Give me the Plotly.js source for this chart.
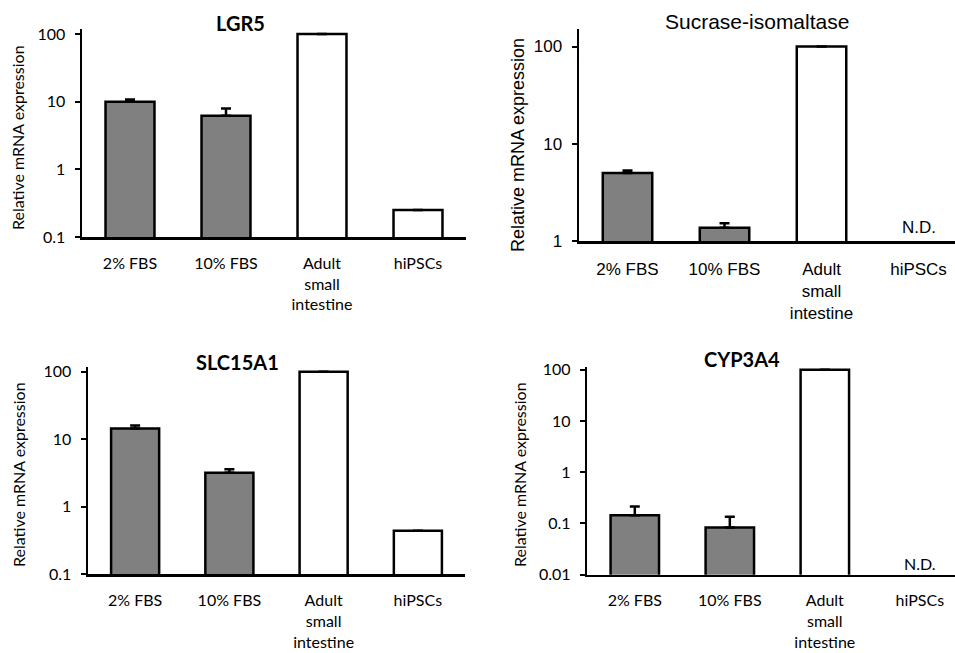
<!DOCTYPE html>
<html>
<head>
<meta charset="utf-8">
<script src="https://cdn.plot.ly/plotly-3.0.1.min.js"></script>
<style>html,body{margin:0;padding:0;background:#fff;}#chart{width:955px;height:653px;}</style>
</head>
<body>
<div id="chart"></div>
<script>
// ---- data ----
const categories = ['2% FBS', '10% FBS', 'Adult<br>small<br>intestine', 'hiPSCs'];
const lgr5Values = [10, 6.2, 100, 0.25];
const lgr5ErrUp = [0.8, 1.7, null, null];
const siValues = [5.0, 1.37, 100, null];
const siErrUp = [0.3, 0.15, null, null];
const slcValues = [14.5, 3.2, 100, 0.44];
const slcErrUp = [1.5, 0.4, null, null];
const cypValues = [0.145, 0.083, 100, null];
const cypErrUp = [0.07, 0.053, null, null];
const panelTitles = ['LGR5', 'Sucrase-isomaltase', 'SLC15A1', 'CYP3A4'];
const yTitle = 'Relative mRNA expression';
const ndLabel = 'N.D.';
const tickVals3 = [0.1, 1, 10, 100];
const tickVals2 = [1, 10, 100];
const tickVals4 = [0.01, 0.1, 1, 10, 100];

// ---- styles ----
const W = 955, H = 653;
const barColors = ['#808080', '#808080', '#ffffff', '#ffffff'];
const calib = 'Lato, "Open Sans", sans-serif';
const arial = '"Liberation Sans", Arial, sans-serif';
const px = v => v / W;
const py = v => 1 - v / H;

function barTrace(vals, err, xa, ya) {
  return {
    type: 'bar', x: categories, y: vals, xaxis: xa, yaxis: ya,
    width: 0.51,
    marker: {color: barColors, line: {color: '#000', width: 2.5}},
    error_y: {type: 'data', symmetric: false, array: err, arrayminus: err.map(e => e == null ? null : 0),
              color: '#000', thickness: 2.5, width: 5},
    showlegend: false, hoverinfo: 'x+y'
  };
}

function xAx(d0, d1, range, font, size, anchor, standoff) {
  return {domain: [d0, d1], range: range, type: 'category', anchor: anchor,
          showline: true, linecolor: '#000', linewidth: 2.5, ticks: '', showgrid: false,
          zeroline: false, tickfont: {family: font, size: size, color: '#000'},
          ticklabelstandoff: standoff, fixedrange: true};
}
function yAx(d0, d1, range, tv, font, size, anchor) {
  return {domain: [d0, d1], type: 'log', range: range, anchor: anchor,
          showline: true, linecolor: '#000', linewidth: 2.5, ticks: 'outside', ticklen: 5,
          tickwidth: 2, tickcolor: '#000', showgrid: false, zeroline: false,
          tickvals: tv, ticktext: tv.map(String),
          tickfont: {family: font, size: size, color: '#000'}, ticklabelstandoff: 6, fixedrange: true};
}

const data = [
  barTrace(lgr5Values, lgr5ErrUp, 'x', 'y'),
  barTrace(siValues, siErrUp, 'x2', 'y2'),
  barTrace(slcValues, slcErrUp, 'x3', 'y3'),
  barTrace(cypValues, cypErrUp, 'x4', 'y4')
];

function ann(text, x, y, font, size, extra) {
  return Object.assign({text: text, xref: 'paper', yref: 'paper', x: px(x), y: py(y),
    xanchor: 'center', yanchor: 'middle', showarrow: false,
    font: {family: font, size: size, color: '#000'}}, extra || {});
}

const layout = {
  width: W, height: H, margin: {l: 0, r: 0, t: 0, b: 0},
  paper_bgcolor: '#fff', plot_bgcolor: 'rgba(0,0,0,0)', showlegend: false,
  xaxis: xAx(px(82), px(466), [-0.5, 3.5], calib, 16, 'y', 10),
  yaxis: yAx(py(237), py(29), [-1, 2.074], tickVals3, calib, 16, 'x'),
  xaxis2: xAx(px(579), 1, [-0.5, 3.376], arial, 17, 'y2', 11),
  yaxis2: yAx(py(241), py(29), [0, 2.18], tickVals2, arial, 17, 'x2'),
  xaxis3: xAx(px(88), px(465), [-0.5, 3.5], calib, 16, 'y3', 10),
  yaxis3: yAx(py(574.3), py(366.7), [-1, 2.075], tickVals3, calib, 16, 'x3'),
  xaxis4: xAx(px(587.3), 1, [-0.5, 3.37], calib, 16, 'y4', 10),
  yaxis4: yAx(py(574.7), py(366.7), [-2, 2.06], tickVals4, calib, 16, 'x4'),
  annotations: [
    ann('<b>' + panelTitles[0] + '</b>', 240, 23, calib, 20),
    ann(panelTitles[1], 757, 22, arial, 21),
    ann('<b>' + panelTitles[2] + '</b>', 237, 362, calib, 20),
    ann('<b>' + panelTitles[3] + '</b>', 742, 359, calib, 20),
    ann(yTitle, 18, 138, calib, 16, {textangle: -90}),
    ann(yTitle, 518, 145, arial, 18, {textangle: -90}),
    ann(yTitle, 18, 475, calib, 16, {textangle: -90}),
    ann(yTitle, 519, 475, calib, 16, {textangle: -90}),
    {text: ndLabel, xref: 'x2', yref: 'paper', x: categories[3], y: py(228), xanchor: 'center',
     yanchor: 'middle', showarrow: false, font: {family: arial, size: 17, color: '#000'}},
    {text: ndLabel, xref: 'x4', yref: 'paper', x: categories[3], y: py(563), xanchor: 'center',
     yanchor: 'middle', showarrow: false, font: {family: calib, size: 16, color: '#000'}}
  ]
};

Plotly.newPlot('chart', data, layout, {displayModeBar: false, staticPlot: true});
</script>
</body>
</html>
